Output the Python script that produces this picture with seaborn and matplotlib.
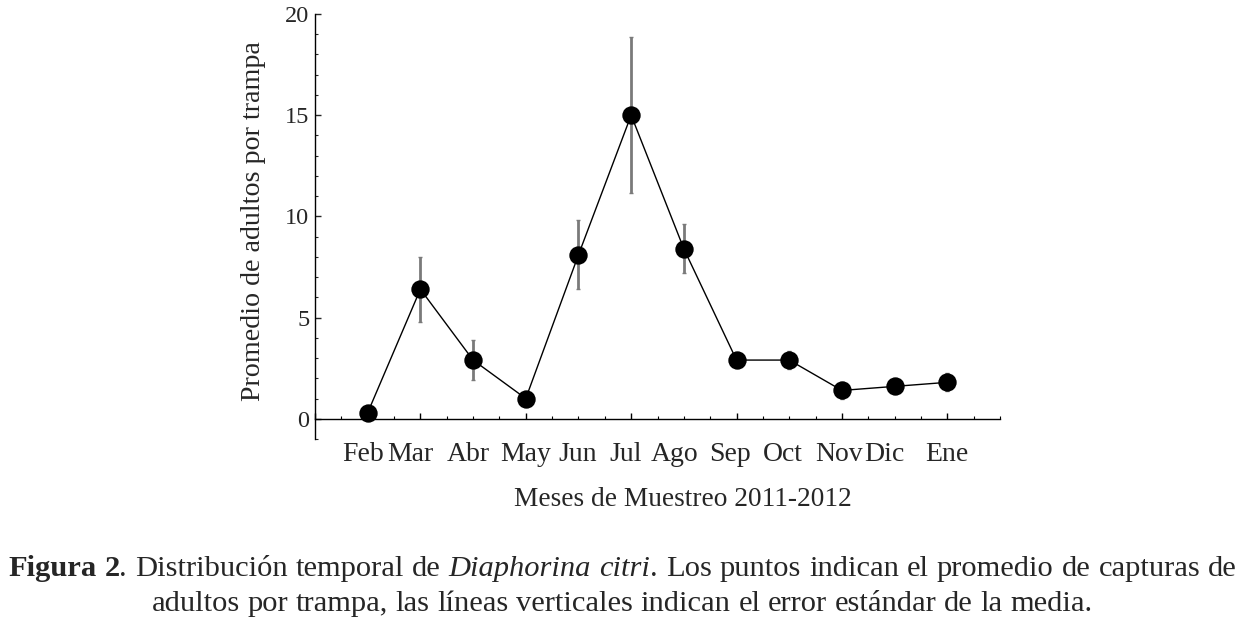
import numpy as np
import pandas as pd
import matplotlib
matplotlib.use("Agg")
import matplotlib.pyplot as plt
import seaborn as sns
from matplotlib.ticker import MultipleLocator

# Datos
meses = ["Feb", "Mar", "Abr", "May", "Jun", "Jul", "Ago", "Sep", "Oct", "Nov", "Dic", "Ene"]
promedio = [0.3, 6.4, 2.9, 1.0, 8.1, 15.0, 8.4, 2.9, 2.9, 1.4, 1.6, 1.8]
error_est = [0.2, 1.6, 1.0, 0.2, 1.7, 3.85, 1.2, 0.3, 0.45, 0.4, 0.2, 0.45]
y_ticks = [0, 5, 10, 15, 20]

# desplazamiento de las etiquetas de mes (en meses), como en el original
label_shift = [-0.08, -0.19, -0.09, 0.0, -0.02, -0.1, -0.17, -0.13, -0.13, -0.05, -0.19, 0.0]

caption_1 = [("Figura 2", "bold"), (". Distribución temporal de ", "normal"),
             ("Diaphorina citri", "italic"),
             (". Los puntos indican el promedio de capturas de", "normal")]
caption_2 = [("adultos por trampa, las líneas verticales indican el error estándar de la media.", "normal")]

df = pd.DataFrame({"mes": meses, "x": np.arange(1, len(meses) + 1),
                   "promedio": promedio, "ee": error_est})

sns.set_style("ticks")
plt.rcParams["font.family"] = ["Liberation Serif", "DejaVu Serif"]
plt.rcParams["mathtext.fontset"] = "stix"

W, H = 1242, 621
fig = plt.figure(figsize=(W / 100, H / 100), dpi=100)
ax = fig.add_axes([315 / W, 1 - 439 / H, 685 / W, 425 / H])

sns.lineplot(data=df, x="x", y="promedio", color="black", linewidth=1.0, ax=ax, zorder=1)
ax.errorbar(df["x"], df["promedio"], yerr=df["ee"], fmt="none", ecolor="#7a7a7a",
            elinewidth=2.0, capsize=1.5, capthick=1.0, zorder=2)
sns.scatterplot(data=df, x="x", y="promedio", color="black", edgecolor="black",
                s=175, linewidth=0, ax=ax, zorder=3, legend=False)

ax.set_xlim(0, 13)
ax.set_ylim(-1, 20)
ax.spines["top"].set_visible(False)
ax.spines["right"].set_visible(False)
ax.spines["bottom"].set_position(("data", 0))
for s in ("left", "bottom"):
    ax.spines[s].set_linewidth(1.0)
    ax.spines[s].set_color("black")

ax.xaxis.set_major_locator(MultipleLocator(2))
ax.xaxis.set_minor_locator(MultipleLocator(0.5))
ax.set_yticks(y_ticks)
ax.yaxis.set_minor_locator(MultipleLocator(1))
ax.tick_params(axis="x", which="both", direction="in", labelbottom=False, color="black")
ax.tick_params(axis="x", which="major", length=4, width=1)
ax.tick_params(axis="x", which="minor", length=2.5, width=0.8)
ax.tick_params(axis="y", which="major", direction="in", length=4, width=1, labelsize=17.5, pad=4)
ax.tick_params(axis="y", which="minor", direction="in", length=2.5, width=0.8)
ax.set_xlabel("")
ax.set_ylabel("")

for xi, m, sh in zip(df["x"], meses, label_shift):
    ax.text(xi + sh, -1.75, m, ha="center", va="center", fontsize=20)

fig.text(683 / W, 1 - 500 / H, "Meses de Muestreo 2011-2012", ha="center", va="center", fontsize=19.7)
fig.text(254 / W, 1 - 221 / H, "Promedio de adultos por trampa", ha="center", va="center",
         rotation=90, fontsize=20.2)

# Pie de figura, palabra por palabra
fig.canvas.draw()
renderer = fig.canvas.get_renderer()


def tokens(segments):
    out = []
    space = False
    for txt, style in segments:
        parts = txt.split(" ")
        for i, p in enumerate(parts):
            if i > 0:
                space = True
            if p:
                out.append((p, style, space if out else False))
                space = False
    return out


def props(style, size):
    d = {"fontsize": size}
    if style == "bold":
        d["fontweight"] = "bold"
    if style == "italic":
        d["fontstyle"] = "italic"
    return d


def width_of(txt, style, size):
    t = fig.text(0, 0, txt, **props(style, size))
    w = t.get_window_extent(renderer).width
    t.remove()
    return w


def place_line(segments, size, y_px, x0=None, x1=None, center=None):
    toks = tokens(segments)
    widths = [width_of(t, s, size) for t, s, _ in toks]
    space_w = width_of("a a", "normal", size) - width_of("aa", "normal", size)
    n_gaps = sum(1 for _, _, g in toks if g)
    if center is not None:
        gap = space_w
        x = center - (sum(widths) + gap * n_gaps) / 2
    else:
        gap = (x1 - x0 - sum(widths)) / max(n_gaps, 1)
        x = x0
    for (t, s, g), w in zip(toks, widths):
        if g:
            x += gap
        fig.text(x / W, 1 - y_px / H, t, ha="left", va="baseline", **props(s, size))
        x += w


# tamano ajustado para que la segunda linea ocupe el ancho del original
base = 20
natural = sum(width_of(t, s, base) for t, s, _ in tokens(caption_2)) + \
    (width_of("a a", "normal", base) - width_of("aa", "normal", base)) * 13
cap_size = base * (1097 - 148) / natural

place_line(caption_1, cap_size, 576, x0=8, x1=1237)
place_line(caption_2, cap_size, 611, center=622)

fig.savefig("out.png", dpi=100, facecolor="white")
